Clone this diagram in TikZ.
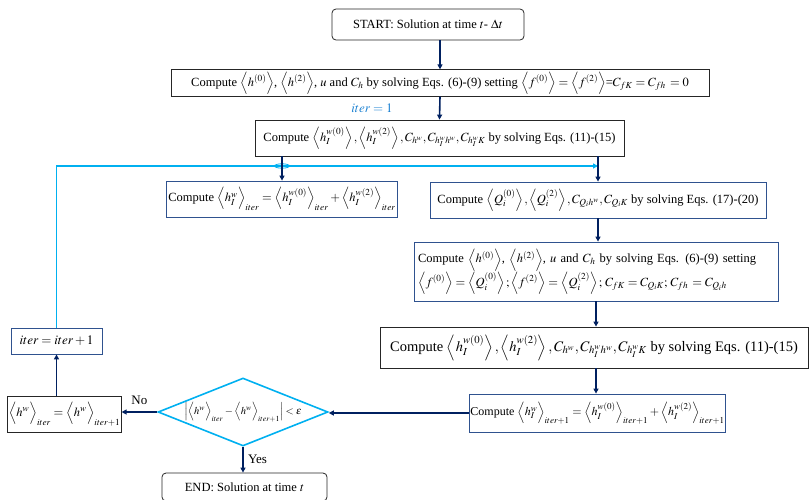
\documentclass[tikz,border=0pt]{standalone}
\usepackage{mathptmx}
\usepackage{amsmath}
\usepackage{fontspec}
\setmainfont{Liberation Serif}
\usetikzlibrary{arrows.meta}
\usetikzlibrary{shapes.geometric}
\usetikzlibrary{calc}
\usetikzlibrary{backgrounds}
\usetikzlibrary{positioning}

\definecolor{navy}{RGB}{0,32,96}
\definecolor{skyline}{RGB}{0,176,240}
\definecolor{slate}{RGB}{47,82,143}
\definecolor{iterblue}{RGB}{30,130,210}

\tikzset{
  box/.style={draw=black!85, line width=0.8pt, inner sep=2pt, font=\fontsize{12.5}{15}\selectfont},
  bluebox/.style={box, draw=slate},
  endbox/.style={box, rounded corners=4pt},
  arr/.style={navy, line width=1.6pt, -{Triangle[length=5pt,width=5pt]}},
  loopline/.style={skyline, line width=1.6pt},
  branchlabel/.style={text=black, font=\fontsize{13}{15}\selectfont},
}

\newcommand{\avg}[1]{\left\langle #1\vphantom{h^{(0)}_I}\right\rangle}

\begin{document}
\begin{tikzpicture}[x=1pt,y=-1pt]
  \useasboundingbox (0,0) rectangle (809,499);

  % Start of the time step
  \node[endbox, minimum width=192pt, minimum height=31pt] (start) at (428,24.5)
    {START: Solution at time $t$- $\Delta t$};
  \node[box, minimum width=538pt, minimum height=26pt] (solve0) at (440,83)
    {Compute $\avg{h^{(0)}}$, $\avg{h^{(2)}}$, $u$ and $C_h$ by solving Eqs. (6)-(9) setting $\avg{f^{(0)}}=\avg{f^{(2)}}$=$C_{fK}=C_{fh}\,=0$};
  \draw[arr] (start.south -| solve0.north) -- (solve0.north);

  % Wall part, first pass
  \node[box, minimum width=369pt, minimum height=36pt] (hw) at (439.5,138)
    {Compute $\avg{h_I^{w(0)}},\avg{h_I^{w(2)}},C_{h^w},C_{h_I^w h^w},C_{h_I^w K}$ by solving Eqs. (11)-(15)};
  \draw[arr] (solve0.south) -- (hw.north);
  \node[font=\fontsize{13}{15}\selectfont, text=iterblue] (iterone) at (372,108) {$iter=1$};

  % Left branch
  \node[bluebox, minimum width=230pt, minimum height=36pt] (hiter) at (282,199)
    {Compute $\avg{h_I^{w}}_{iter}=\avg{h_I^{w(0)}}_{iter}+\avg{h_I^{w(2)}}_{iter}$};

  % Right branch
  \node[bluebox, minimum width=336pt, minimum height=36pt] (qbox) at (598,200)
    {Compute $\avg{Q_i^{(0)}},\avg{Q_i^{(2)}},C_{Q_i h^w},C_{Q_i K}$ by solving Eqs. (17)-(20)};
  \draw[arr] (hw.south -| qbox.north) -- (qbox.north);
  \node[bluebox, minimum width=364pt, minimum height=59pt, text width=356pt, align=left] (solveq) at (596,271.5)
    {Compute $\avg{h^{(0)}}$, $\avg{h^{(2)}}$, $u$ and $C_h$ by solving Eqs. (6)-(9) setting\\
     $\avg{f^{(0)}}=\avg{Q_i^{(0)}};\avg{f^{(2)}}=\avg{Q_i^{(2)}};\,C_{fK}=C_{Q_iK};\,C_{fh}\,=C_{Q_ih}$};
  \draw[arr] (qbox.south) -- (qbox.south |- solveq.north);
  \node[box, font=\fontsize{14.5}{17}\selectfont, minimum width=428pt, minimum height=41pt] (hw2) at (594,347.5)
    {Compute $\avg{h_I^{w(0)}},\avg{h_I^{w(2)}},C_{h^w},C_{h_I^w h^w},C_{h_I^w K}$ by solving Eqs. (11)-(15)};
  \draw[arr] (solveq.south) -- (solveq.south |- hw2.north);
  \node[bluebox, font=\fontsize{12}{14}\selectfont, inner sep=1pt, minimum width=253pt, minimum height=38pt] (hnext) at (597.5,413)
    {Compute $\avg{h_I^{w}}_{iter+1}=\avg{h_I^{w(0)}}_{iter+1}+\avg{h_I^{w(2)}}_{iter+1}$};
  \draw[arr] (solveq.south |- hw2.south) -- (solveq.south |- hnext.north);

  % Convergence check
  \node[diamond, draw=skyline, line width=1.6pt, shape aspect=2.6, minimum width=170pt, minimum height=68pt,
        inner sep=0pt, font=\fontsize{10.5}{12}\selectfont] (check) at (243,412)
    {$\left|\avg{h^w}_{iter}-\avg{h^w}_{iter+1}\right|<\varepsilon$};
  \draw[arr] (hnext.west) -- (hnext.west -| check.east);
  \node[box, font=\fontsize{12.5}{15}\selectfont, inner sep=1pt, minimum width=111pt, minimum height=36pt] (keep) at (64.5,414)
    {$\avg{h^w}_{iter}=\avg{h^w}_{iter+1}$};
  \draw[arr] (check.west) -- (check.west -| keep.east) node[midway, above=3pt, branchlabel] {No};
  \node[bluebox, font=\fontsize{13}{15}\selectfont, minimum width=91pt, minimum height=26pt] (inc) at (56.5,341)
    {$iter=iter+1$};
  \draw[arr] (keep.north -| inc.south) -- (inc.south);

  % End of the time step
  \node[endbox, minimum width=165pt, minimum height=28pt] (finish) at (244.5,487)
    {END: Solution at time $t$};
  \draw[arr] (check.south) -- (check.south |- finish.north) node[midway, right=1pt, branchlabel] {Yes};

  % Iteration loop
  \coordinate (loopend) at ($(hw.south -| qbox.north)!0.38!(qbox.north)$);
  \begin{scope}[on background layer]
    \draw[loopline, -{Triangle[length=5pt,width=5pt]}] (inc.north) |- (loopend);
    \draw[skyline, line width=0.8pt] (hiter.north |- loopend) ellipse (7.5pt and 2.2pt);
  \end{scope}
  \draw[arr] (hw.south -| hiter.north) -- (hiter.north);
\end{tikzpicture}
\end{document}
